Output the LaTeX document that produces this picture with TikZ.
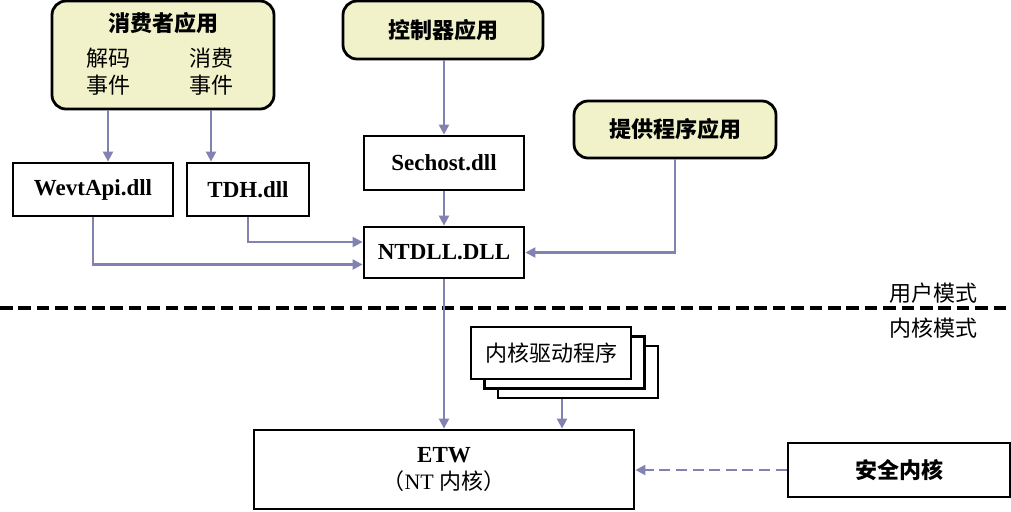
\documentclass[tikz,border=0pt]{standalone}
\usepackage{fontspec}
\setmainfont{Liberation Serif}
\newfontfamily\cjk{Noto Sans CJK SC}
\usetikzlibrary{arrows.meta}
\definecolor{appfill}{RGB}{242,242,202}
\definecolor{flowcol}{RGB}{130,130,178}

\begin{document}
\begin{tikzpicture}[x=0.5pt,y=-0.5pt,
    every node/.style={font=\fontsize{11}{13.5}\selectfont},
    box/.style={draw=black,line width=1.4pt,fill=white,inner sep=0pt},
    appbox/.style={box,fill=appfill,rounded corners=7pt},
    dllname/.style={font=\fontsize{11.5}{13.5}\selectfont\bfseries},
    flow/.style={draw=flowcol,line width=1.1pt,-{Triangle[length=5pt,width=5pt]}}]
  \useasboundingbox (0,0) rectangle (1011,511);

  % user mode
  \node[appbox,minimum width=111pt,minimum height=54pt] (cons) at (163,55) {};
  \node (constitle) at (163,23) {\cjk\bfseries 消费者应用};
  \node[align=center] (dec) at (108,71.5) {\cjk 解码\\\cjk 事件};
  \node[align=center] (use) at (211,71.5) {\cjk 消费\\\cjk 事件};
  \node[appbox,minimum width=100pt,minimum height=29pt] (ctrl) at (443,30) {\cjk\bfseries 控制器应用};
  \node[appbox,minimum width=101pt,minimum height=28.5pt] (prov) at (675,129.5) {\cjk\bfseries 提供程序应用};
  \node[box,dllname,minimum width=80pt,minimum height=26.5pt] (wevt) at (93,189.5) {WevtApi.dll};
  \node[box,dllname,minimum width=61pt,minimum height=26.5pt] (tdh) at (248,189.5) {TDH.dll};
  \node[box,dllname,minimum width=80pt,minimum height=27pt] (sechost) at (444,163) {Sechost.dll};
  \node[box,dllname,minimum width=80pt,minimum height=25.5pt] (ntdll) at (444,252.5) {NTDLL.DLL};

  % mode boundary
  \coordinate (lineL) at (0,308);
  \coordinate (lineR) at (1011,308);
  \draw[line width=1.8pt,dash pattern=on 6.3pt off 2.9pt] (lineL) -- (lineR);
  \node[anchor=east,inner sep=0pt] (umode) at (978,293) {\cjk 用户模式};
  \node[anchor=east,inner sep=0pt] (kmode) at (978,328) {\cjk 内核模式};

  % kernel mode
  \node[box,minimum width=80pt,minimum height=26pt] (drv3) at (578,372) {};
  \node[box,minimum width=80pt,minimum height=26pt] (drv2) at (564.5,362.5) {};
  \node[box,minimum width=80pt,minimum height=26pt] (drv1) at (551,353) {\cjk 内核驱动程序};
  \node[box,minimum width=190pt,minimum height=39.5pt,align=center] (etw) at (444,469.5)
    {{\fontsize{11.5}{13.5}\selectfont\bfseries ETW}\\{\cjk （}NT {\cjk 内核）}};
  \node[box,minimum width=111pt,minimum height=27pt] (sec) at (899,470) {\cjk\bfseries 安全内核};

  % connectors
  \draw[flow] (cons.south -| dec) -- (dec |- wevt.north);
  \draw[flow] (cons.south -| use) -- (use |- tdh.north);
  \draw[flow] (ctrl.south -| sechost) -- (sechost.north);
  \draw[flow] (sechost) -- (ntdll);
  \draw[flow] (tdh.south) |- ([yshift=5.25pt]ntdll.west);
  \draw[flow] (wevt.south) |- ([yshift=-6pt]ntdll.west);
  \draw[flow] (prov.south) |- (ntdll.east);
  \draw[flow] (ntdll) -- (ntdll |- etw.north);
  \draw[flow] ([xshift=-8pt]drv3.south) -- ([xshift=-8pt]drv3.south |- etw.north);
  \draw[flow,dash pattern=on 5.5pt off 2.8pt] (sec.west) -- (sec.west -| etw.east);
\end{tikzpicture}
\end{document}
